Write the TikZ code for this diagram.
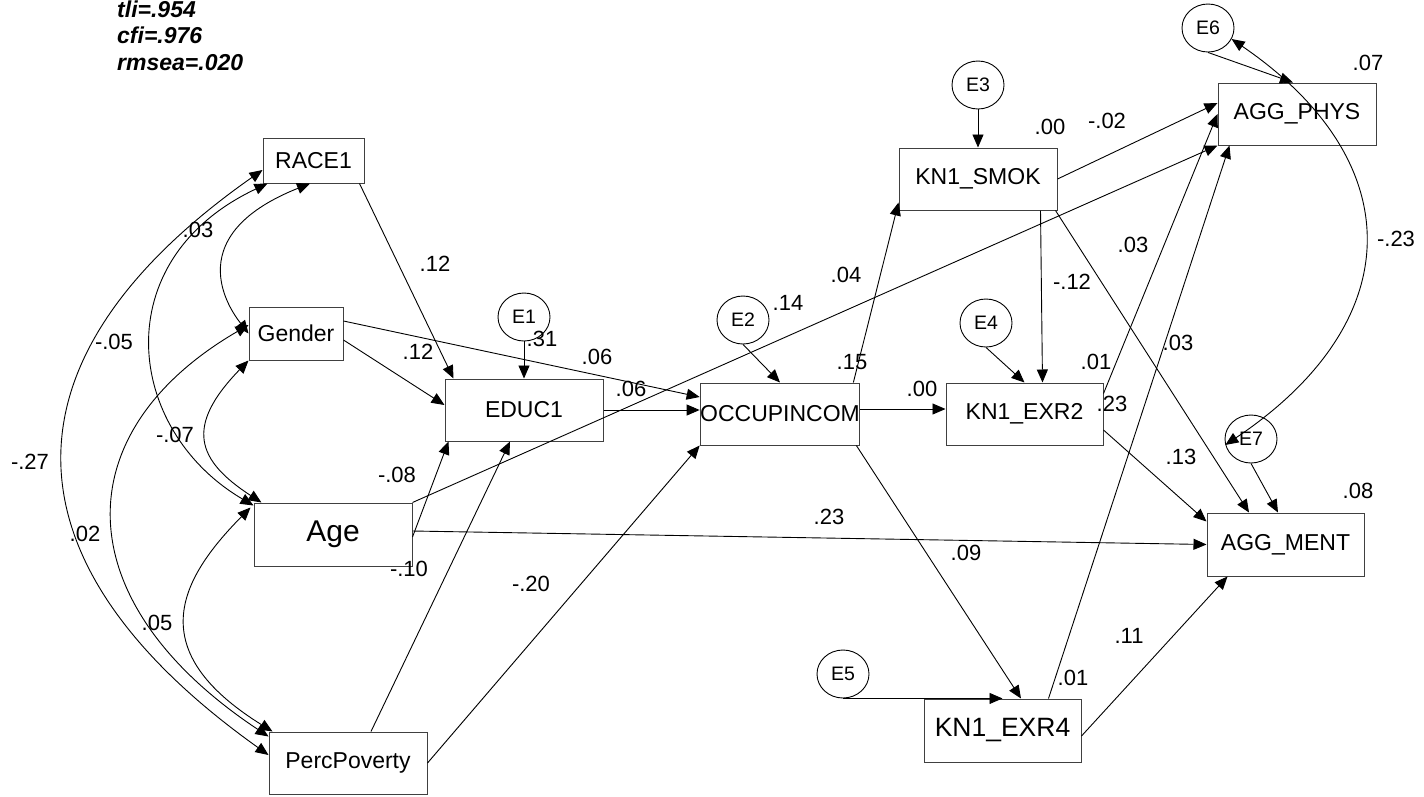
\documentclass[tikz,border=0pt]{standalone}
\usepackage{fontspec}
\setmainfont{Liberation Sans}
\usetikzlibrary{arrows.meta,shapes.geometric}

\begin{document}
\begin{tikzpicture}[x=1pt,y=-1pt,
  obs/.style={draw=black!75, line width=1pt, rectangle, inner sep=0pt,
    minimum width=158pt, minimum height=62pt, font=\fontsize{23}{27}\selectfont},
  resid/.style={draw=black, line width=0.9pt, ellipse, inner sep=0pt,
    minimum width=52pt, minimum height=48pt, font=\fontsize{19.5}{22}\selectfont},
  reg/.style={line width=0.9pt, -{Triangle[length=13pt,width=11pt]}},
  cov/.style={line width=0.9pt,
    {Triangle[length=13pt,width=11pt]}-{Triangle[length=13pt,width=11pt]}},
  coef/.style={font=\fontsize{22}{26}\selectfont, inner sep=0pt},
  fitidx/.style={font=\fontsize{23}{27}\selectfont\bfseries\itshape,
    inner sep=0pt, anchor=base west}
]
\useasboundingbox (0,0) rectangle (1424,796);

% fit indices
\node[fitidx] (tli) at (117,17) {tli=.954};
\node[fitidx] (cfi) at (117,43) {cfi=.976};
\node[fitidx] (rmsea) at (117,70) {rmsea=.020};

% observed variables
\node[obs, minimum width=101pt, minimum height=45pt] (race) at (313.5,160.5) {RACE1};
\node[obs, minimum width=94pt, minimum height=53pt] (gender) at (296,333.5) {Gender};
\node[obs, minimum height=63pt, font=\fontsize{30}{34}\selectfont] (age) at (333,534.5) {Age};
\node[obs] (pov) at (348,763) {PercPoverty};
\node[obs] (educ) at (524,410) {EDUC1};
\node[obs] (occ) at (780,414) {OCCUPINCOM};
\node[obs] (smok) at (978,179) {KN1\_SMOK};
\node[obs] (phys) at (1297,114) {AGG\_PHYS};
\node[obs, minimum width=157pt] (exr2) at (1024.5,414) {KN1\_EXR2};
\node[obs, minimum width=157pt, minimum height=63pt] (ment) at (1285.5,544.5) {AGG\_MENT};
\node[obs, minimum width=157pt, minimum height=63pt, font=\fontsize{26.5}{30}\selectfont] (exr4) at (1002.5,730.5) {KN1\_EXR4};

% error terms
\node[resid] (e1) at (524,317) {E1};
\node[resid] (e2) at (743,320) {E2};
\node[resid] (e3) at (978,85) {E3};
\node[resid] (e4) at (986,323) {E4};
\node[resid] (e5) at (843,674) {E5};
\node[resid] (e6) at (1208,28) {E6};
\node[resid] (e7) at (1251,439) {E7};

% regression paths
\draw[reg] ([xshift=-5pt]race.south east) -- ([xshift=9pt]educ.north west);
\draw[reg] ([yshift=-6.5pt]gender.east) -- ([yshift=5pt]educ.west);
\draw[reg] ([yshift=12.5pt]gender.east) -- ([yshift=17pt]occ.west);
\draw[reg] (educ.east) -- (educ.east -| occ.west);
\draw[reg] (e1.south) -- (educ.north);
\draw[reg] (e2.south) -- (occ.north);
\draw[reg] ([yshift=-2.5pt]age.east) -- ([xshift=4pt]educ.south west);
\draw[reg] (age.north east) -- (phys.south west);
\draw[reg] (smok.east) -- ([yshift=11pt]phys.west);
\draw[reg] ([yshift=-11pt]exr2.north east) -- (phys.west);
\draw[reg] ([xshift=-33pt]exr4.north east) -- ([xshift=12pt]phys.south west);
\draw[reg] (e6.south) -- ([xshift=-4pt]phys.north);
\draw[reg] (e7.south) -- ([xshift=-7.5pt]ment.north);
\draw[reg] ([xshift=-2pt]smok.south east) -- ([xshift=-36.5pt]ment.north);
\draw[reg] ([yshift=-16pt]exr2.east) -- ([yshift=-9pt]ment.north west);
\draw[reg] ([yshift=3.5pt]age.east) -- (ment.west);
\draw[reg] ([yshift=-5.5pt]exr4.east) -- ([xshift=21pt]ment.south west);
\draw[reg] (e5.south) -- (e5.south -| exr4.north);
\draw[reg] ([xshift=-4pt]occ.south east) -- ([xshift=18.5pt]exr4.north);
\draw[reg] ([yshift=5pt]occ.east) -- ([yshift=5pt]exr2.west);
\draw[reg] ([xshift=-7pt]occ.north east) -- ([yshift=8pt]smok.south west);
\draw[reg] (e3.south) -- (smok.north);
\draw[reg] (e4.south) -- (exr2.north);
\draw[reg] ([xshift=-17pt]smok.south east) -- ([xshift=-61pt]exr2.north east);
\draw[reg] ([xshift=23pt]pov.north) -- ([xshift=-14pt]educ.south);
\draw[reg] (pov.east) -- (occ.south west);

% covariances among exogenous variables
\draw[cov] ([xshift=-3.5pt]race.south) .. controls (173,238) and (235,316) .. (gender.west);
\draw[cov] ([xshift=5pt]race.south west) .. controls (105,260) and (125,430) .. ([yshift=-3pt]age.north west);
\draw[cov] ([yshift=-9.5pt]race.west) .. controls (-4,357) and (-4,561) .. ([yshift=8pt]pov.west);
\draw[cov] ([yshift=8.5pt]gender.west) .. controls (64.5,432) and (64.5,601) .. ([yshift=-5pt]pov.north west);
\draw[cov] (gender.south west) .. controls (185,426) and (196,460) .. ([xshift=8pt]age.north west);
\draw[cov] ([xshift=-3pt,yshift=-5pt]age.north west) .. controls (178,581) and (143,651) .. ([xshift=4pt]pov.north west);
% covariance between the outcome residuals
\draw[cov] (e6.-25) .. controls (1410,161) and (1410,321) .. (e7.193);

% estimates
\node[coef] (c01) at (198,230) {.03};
\node[coef] (c02) at (114,342) {-.05};
\node[coef] (c03) at (175,435) {-.07};
\node[coef] (c04) at (30,462) {-.27};
\node[coef] (c05) at (85,534) {.02};
\node[coef] (c06) at (157,623) {.05};
\node[coef] (c07) at (435,264) {.12};
\node[coef] (c08) at (418,352) {.12};
\node[coef] (c09) at (542,339) {.31};
\node[coef] (c10) at (597,357) {.06};
\node[coef] (c11) at (631,389) {.06};
\node[coef] (c12) at (788,303) {.14};
\node[coef] (c13) at (846,275) {.04};
\node[coef] (c14) at (852,362) {.15};
\node[coef] (c15) at (397,475) {-.08};
\node[coef] (c16) at (409,569) {-.10};
\node[coef] (c17) at (531,584) {-.20};
\node[coef] (c18) at (829,517) {.23};
\node[coef] (c19) at (966,553) {.09};
\node[coef] (c20) at (1050,127) {.00};
\node[coef] (c21) at (1107,121) {-.02};
\node[coef] (c22) at (1368,63) {.07};
\node[coef] (c23) at (1396,239) {-.23};
\node[coef] (c24) at (1178,343) {.03};
\node[coef] (c25) at (1133,245) {.03};
\node[coef] (c26) at (1072,282) {-.12};
\node[coef] (c27) at (1096,362) {.01};
\node[coef] (c28) at (922,389) {.00};
\node[coef] (c29) at (1112,404) {.23};
\node[coef] (c30) at (1181,457) {.13};
\node[coef] (c31) at (1358,491) {.08};
\node[coef] (c32) at (1129,636) {.11};
\node[coef] (c33) at (1073,678) {.01};
\end{tikzpicture}
\end{document}
